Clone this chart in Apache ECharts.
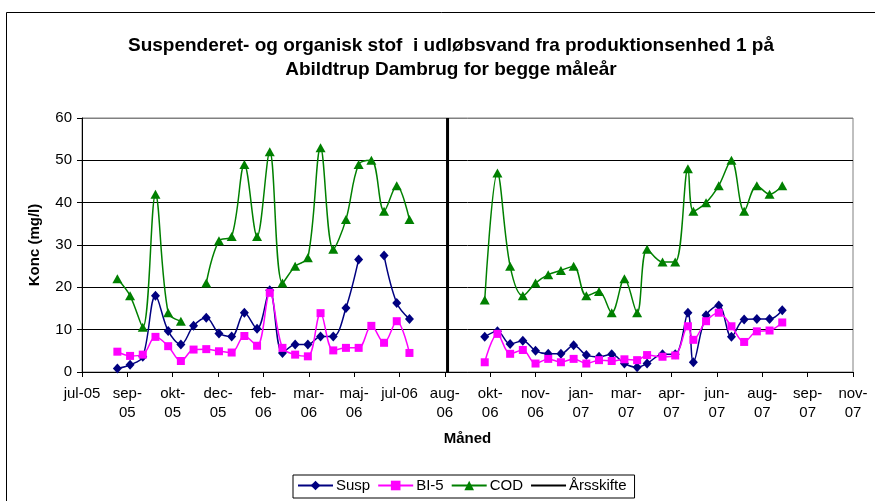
<!DOCTYPE html>
<html>
<head>
<meta charset="utf-8">
<script src="https://cdn.jsdelivr.net/npm/echarts@6/dist/echarts.min.js"></script>
<style>
  html, body { margin: 0; padding: 0; background: #fff; }
  #chart { width: 875px; height: 501px; }
</style>
</head>
<body>
<div id="chart"></div>
<script>
// sample dates, first measuring year
var dates1 = ['2005-08-25', '2005-09-08', '2005-09-22', '2005-10-06', '2005-10-20', '2005-11-03',
  '2005-11-17', '2005-12-01', '2005-12-15', '2005-12-29', '2006-01-12', '2006-01-26',
  '2006-02-09', '2006-02-23', '2006-03-09', '2006-03-23', '2006-04-06', '2006-04-20',
  '2006-05-04', '2006-05-18', '2006-06-01', '2006-06-15', '2006-06-29', '2006-07-13']
var susp1 = [0.8, 1.7, 3.6, 18.0, 9.7, 6.5, 10.9, 12.8, 9.1, 8.4, 14.0, 10.2,
  19.3, 4.5, 6.5, 6.5, 8.4, 8.4, 15.1, 26.6, null, 27.5, 16.3, 12.5]
var bi51 = [4.8, 3.8, 4.1, 8.3, 6.1, 2.6, 5.3, 5.4, 4.9, 4.6, 8.5, 6.2,
  18.7, 5.7, 4.1, 3.7, 13.9, 5.1, 5.7, 5.7, 10.9, 6.9, 12.0, 4.5]
var cod1 = [22, 18, 10.6, 42, 14, 12, null, 21, 31, 32, 49, 32,
  52, 21, 25, 27, 53, 29, 36, 49, 50, 38, 44, 36]

// sample dates, second measuring year
var dates2 = ['2006-10-04', '2006-10-18', '2006-11-01', '2006-11-15', '2006-11-29', '2006-12-13',
  '2006-12-27', '2007-01-10', '2007-01-24', '2007-02-07', '2007-02-21', '2007-03-07',
  '2007-03-21', '2007-04-01', '2007-04-18', '2007-05-02', '2007-05-16', '2007-05-22',
  '2007-06-05', '2007-06-19', '2007-07-03', '2007-07-17', '2007-07-31', '2007-08-14', '2007-08-28']
var susp2 = [8.3, 9.6, 6.6, 7.4, 5.0, 4.3, 4.3, 6.3, 4.0, 3.6, 4.2, 2.0,
  1.1, 2.0, 4.2, 4.2, 14.0, 2.3, 13.4, 15.7, 8.3, 12.4, 12.5, 12.5, 14.6]
var bi52 = [2.3, 9.0, 4.3, 5.2, 2.0, 3.1, 2.3, 3.1, 2.0, 2.8, 2.6, 3.0,
  2.8, 4.0, 3.6, 3.9, 10.8, 7.6, 12.0, 14.0, 10.8, 7.1, 9.6, 9.8, 11.7]
var cod2 = [17, 47, 25, 18, 21, 23, 24, 25, 18, 19, 14, 22,
  14, 29, 26, 26, 48, 38, 40, 44, 50, 38, 44, 42, 44]

// year change marker
var aarsskifte = ['2006-08-24']

var yTicks = [0, 10, 20, 30, 40, 50, 60]
var maaneder = ['jan', 'feb', 'mar', 'apr', 'maj', 'jun', 'jul', 'aug', 'sep', 'okt', 'nov', 'dec']

// excel style serial day numbers so the 50-day ticks land like the original
function serial(s) {
  var p = s.split('-')
  return Date.UTC(+p[0], +p[1] - 1, +p[2]) / 86400000 + 25569
}
function pairs(dates, vals) {
  return dates.map(function (d, i) {
    return [serial(d), vals[i] == null ? '-' : vals[i]]
  })
}
function label(v) {
  var d = new Date((v - 25569) * 86400000)
  var m = maaneder[d.getUTCMonth()]
  var y = String(d.getUTCFullYear()).slice(2)
  return m === 'jul' ? m + '-' + y : m + '-\n' + y
}

var font = 'Liberation Sans, Arial, sans-serif'
var chart = echarts.init(document.getElementById('chart'))

chart.setOption({
  animation: false,
  textStyle: { fontFamily: font, color: '#000' },
  graphic: [{
    type: 'rect',
    shape: { x: 6.5, y: 12.5, width: 900, height: 520 },
    style: { fill: 'none', stroke: '#000', lineWidth: 1 },
    silent: true
  }],
  title: {
    text: 'Suspenderet- og organisk stof  i udløbsvand fra produktionsenhed 1 på\nAbildtrup Dambrug for begge måleår',
    left: 446,
    top: 29,
    textAlign: 'center',
    textStyle: { fontFamily: font, fontSize: 19, fontWeight: 'bold', color: '#000', lineHeight: 24 }
  },
  legend: {
    left: 293,
    top: 475,
    orient: 'horizontal',
    backgroundColor: '#fff',
    borderColor: '#000',
    borderWidth: 1,
    padding: [3, 8, 5, 4],
    itemGap: 7,
    itemWidth: 35,
    itemHeight: 12,
    textStyle: { fontFamily: font, fontSize: 15, color: '#000', padding: [0, 0, 0, -2] },
    data: ['Susp', 'BI-5', 'COD', { name: 'Årsskifte', itemStyle: { opacity: 0 } }]
  },
  grid: {
    left: 82,
    right: 22,
    top: 118,
    bottom: 129,
    show: true,
    borderColor: '#808080',
    borderWidth: 1
  },
  xAxis: {
    type: 'value',
    min: 38550,
    max: 39400,
    interval: 50,
    name: 'Måned',
    nameLocation: 'middle',
    nameGap: 59,
    nameTextStyle: { fontFamily: font, fontSize: 15, fontWeight: 'bold', color: '#000' },
    axisLine: { onZero: false, lineStyle: { color: '#000', width: 1 } },
    axisTick: { show: true, length: 5, lineStyle: { color: '#000' } },
    axisLabel: {
      formatter: label,
      fontFamily: font,
      fontSize: 15,
      color: '#000',
      lineHeight: 19,
      margin: 12,
      showMinLabel: true,
      showMaxLabel: true,
      hideOverlap: false
    },
    splitLine: { show: false }
  },
  yAxis: {
    type: 'value',
    min: yTicks[0],
    max: yTicks[yTicks.length - 1],
    interval: 10,
    name: 'Konc (mg/l)',
    nameLocation: 'middle',
    nameGap: 40,
    nameTextStyle: { fontFamily: font, fontSize: 15, fontWeight: 'bold', color: '#000' },
    axisLine: { show: true, lineStyle: { color: '#000', width: 1 } },
    axisTick: { show: true, length: 5, lineStyle: { color: '#000' } },
    axisLabel: { fontFamily: font, fontSize: 15, color: '#000', margin: 10 },
    splitLine: {
      show: true,
      lineStyle: { color: ['#000', '#000', '#000', '#000', '#000', '#000', '#808080'], width: 1 }
    }
  },
  series: [
    {
      name: 'Susp',
      type: 'line',
      smooth: 0.35,
      connectNulls: false,
      symbol: 'diamond',
      symbolSize: [9, 10],
      itemStyle: { color: '#000080' },
      lineStyle: { color: '#000080', width: 1.5 },
      data: pairs(dates1, susp1).concat([[38950, '-']], pairs(dates2, susp2))
    },
    {
      name: 'BI-5',
      type: 'line',
      smooth: 0.35,
      connectNulls: false,
      symbol: 'rect',
      symbolSize: 8,
      itemStyle: { color: '#ff00ff' },
      lineStyle: { color: '#ff00ff', width: 1.5 },
      data: pairs(dates1, bi51).concat([[38950, '-']], pairs(dates2, bi52))
    },
    {
      name: 'COD',
      type: 'line',
      smooth: 0.35,
      connectNulls: false,
      symbol: 'triangle',
      symbolSize: [10, 9],
      itemStyle: { color: '#008000' },
      lineStyle: { color: '#008000', width: 1.5 },
      data: pairs(dates1, cod1).concat([[38950, '-']], pairs(dates2, cod2))
    },
    {
      name: 'Årsskifte',
      type: 'line',
      symbol: 'none',
      itemStyle: { color: '#000' },
      lineStyle: { color: '#000', width: 3 },
      data: [[serial(aarsskifte[0]), yTicks[0]], [serial(aarsskifte[0]), yTicks[yTicks.length - 1]]]
    }
  ]
})
</script>
</body>
</html>
